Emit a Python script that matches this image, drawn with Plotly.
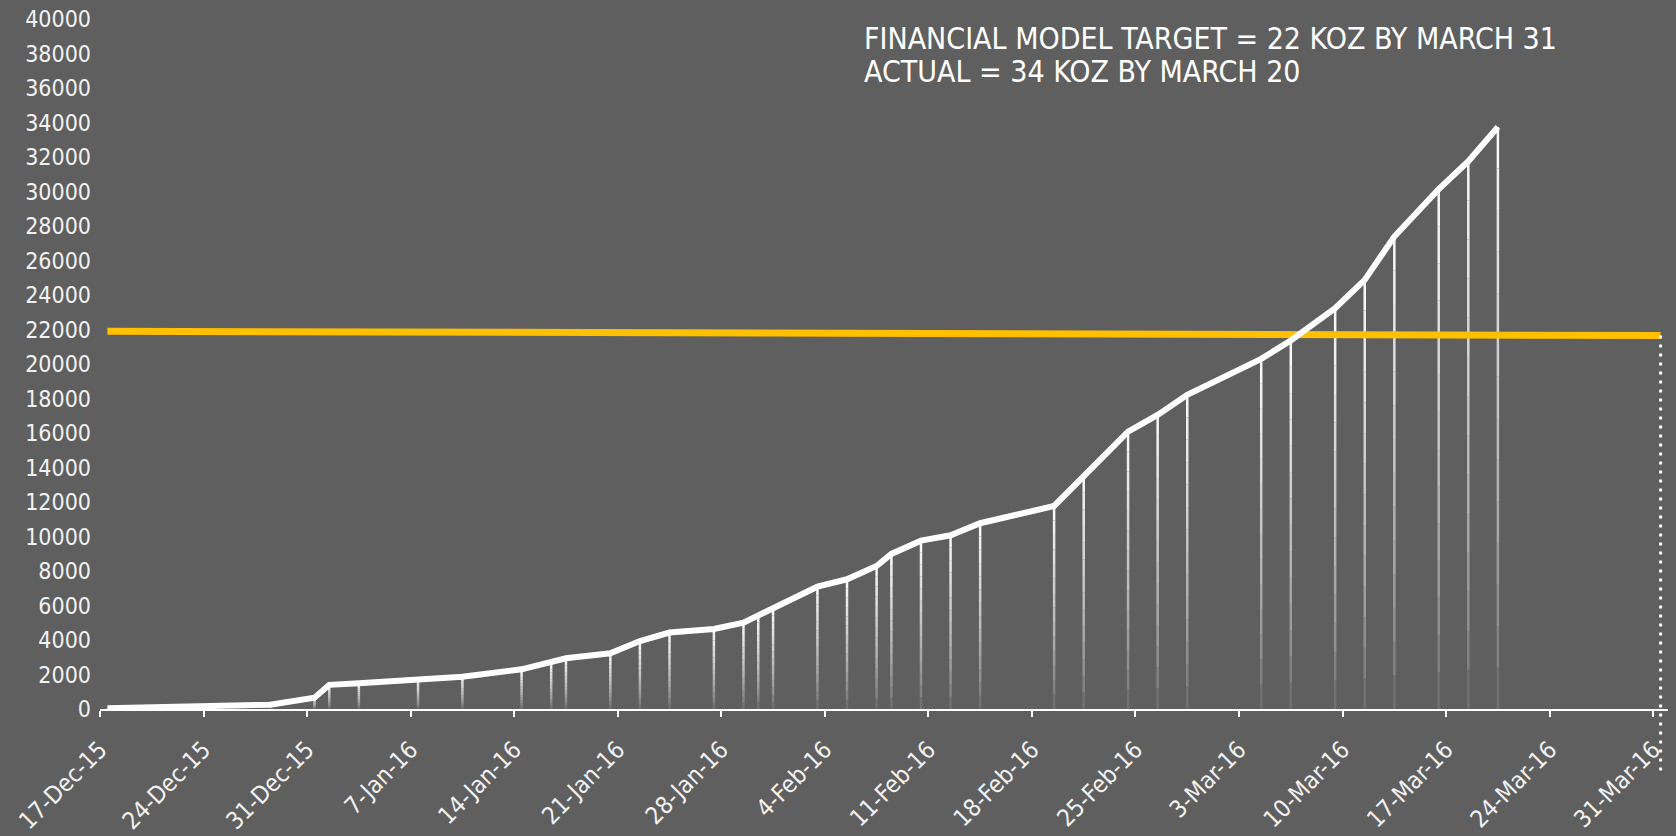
import pandas as pd
import plotly.graph_objects as go

# ---------------- data ----------------
dates = ["2015-12-17", "2015-12-24", "2015-12-28", "2015-12-31", "2016-01-01", "2016-01-03",
         "2016-01-07", "2016-01-10", "2016-01-14", "2016-01-16", "2016-01-17", "2016-01-20",
         "2016-01-22", "2016-01-24", "2016-01-27", "2016-01-29", "2016-01-30", "2016-01-31",
         "2016-02-03", "2016-02-05", "2016-02-07", "2016-02-08", "2016-02-10", "2016-02-12",
         "2016-02-14", "2016-02-19", "2016-02-21", "2016-02-24", "2016-02-26", "2016-02-28",
         "2016-03-04", "2016-03-06", "2016-03-09", "2016-03-11", "2016-03-13", "2016-03-16",
         "2016-03-18", "2016-03-20"]
actual_oz = [40, 120, 250, 650, 1400, 1490, 1720, 1870, 2300, 2690, 2940, 3230,
             3940, 4430, 4640, 5010, 5410, 5840, 7090, 7520, 8290, 8990, 9760, 10070,
             10770, 11770, 13500, 16080, 17050, 18210, 20300, 21360, 23240, 24880, 27390, 30140,
             31750, 33740]

target_dates = ["2015-12-17", "2016-03-31"]
target_oz = [21900, 21650]

tick_dates = ["2015-12-17", "2015-12-24", "2015-12-31", "2016-01-07", "2016-01-14", "2016-01-21",
              "2016-01-28", "2016-02-04", "2016-02-11", "2016-02-18", "2016-02-25", "2016-03-03",
              "2016-03-10", "2016-03-17", "2016-03-24", "2016-03-31"]
tick_labels = ["17-Dec-15", "24-Dec-15", "31-Dec-15", "7-Jan-16", "14-Jan-16", "21-Jan-16",
               "28-Jan-16", "4-Feb-16", "11-Feb-16", "18-Feb-16", "25-Feb-16", "3-Mar-16",
               "10-Mar-16", "17-Mar-16", "24-Mar-16", "31-Mar-16"]

y_ticks = list(range(0, 40001, 2000))

annotation_lines = ["FINANCIAL MODEL TARGET = 22 KOZ BY MARCH 31",
                    "ACTUAL = 34 KOZ BY MARCH 20"]

# ---------------- styling ----------------
BG = "#5F5F5F"
FONT = "'DejaVu Sans Condensed', 'Liberation Sans', Arial, sans-serif"
TXT = "#F2F2F2"

x_actual = pd.to_datetime(dates)
x_target = pd.to_datetime(target_dates)
# date axis with points placed "between tick marks": each tick sits at the start of its day slot
half_day = pd.Timedelta(hours=12)
tickvals = pd.to_datetime(tick_dates) - half_day
x_range = [tickvals[0], pd.to_datetime(tick_dates[-1]) + half_day]

fig = go.Figure()

# gradient drop lines (white at top fading to background at the axis)
N_SEG = 14
for i in range(N_SEG):
    lo = [v * i / N_SEG for v in actual_oz]
    seg = [v / N_SEG for v in actual_oz]
    alpha = 0.02 + 0.96 * ((i + 0.5) / N_SEG) ** 0.7
    fig.add_trace(go.Scatter(
        x=x_actual, y=lo, mode="markers",
        marker=dict(size=0, opacity=0),
        error_y=dict(type="data", symmetric=False, array=seg, arrayminus=[0] * len(seg),
                     thickness=2.5, width=0, color=f"rgba(255,255,255,{alpha:.3f})"),
        hoverinfo="skip", showlegend=False))

# target line
fig.add_trace(go.Scatter(x=x_target, y=target_oz, mode="lines",
                         line=dict(color="#FFC000", width=7),
                         showlegend=False, hoverinfo="skip"))

# actual cumulative production
fig.add_trace(go.Scatter(x=x_actual, y=actual_oz, mode="lines",
                         line=dict(color="#FFFFFF", width=6),
                         showlegend=False))

# dotted drop line from target end point
fig.add_shape(type="line", xref="x", yref="paper",
              x0=x_target[-1], x1=x_target[-1],
              y0=target_oz[-1] / y_ticks[-1], y1=-0.09,
              line=dict(color="#FFFFFF", width=3, dash="3px,6px"))

for k, line in enumerate(annotation_lines):
    fig.add_annotation(xref="paper", yref="paper", x=0.4857, y=1.0 - k * 0.0478,
                       xanchor="left", yanchor="top", showarrow=False, align="left",
                       text=line, font=dict(family=FONT, size=30, color="#FFFFFF"))

fig.update_layout(
    width=1676, height=836,
    paper_bgcolor=BG, plot_bgcolor=BG,
    margin=dict(l=100, r=8, t=19, b=127),
    font=dict(family=FONT, color=TXT, size=23),
    showlegend=False,
)
fig.update_xaxes(type="date", range=x_range, tickvals=tickvals, ticktext=tick_labels,
                 tickangle=-45, ticks="outside", ticklen=6, tickwidth=2, tickcolor="#FFFFFF",
                 showline=True, linecolor="#FFFFFF", linewidth=2, showgrid=False, zeroline=False,
                 automargin=False, ticklabelstandoff=9,
                 tickfont=dict(family=FONT, size=24, color=TXT))
fig.update_yaxes(range=[0, 40000], tickvals=y_ticks, tickformat="d", ticks="", showline=False,
                 showgrid=False, zeroline=False, ticklabelstandoff=8, automargin=False,
                 tickfont=dict(family=FONT, size=23, color=TXT))

fig.write_html("out.html",
               config={"displayModeBar": False},
               post_script="document.body.style.margin='0';document.body.style.overflow='hidden';"
                           "document.body.style.background='" + BG + "';")
